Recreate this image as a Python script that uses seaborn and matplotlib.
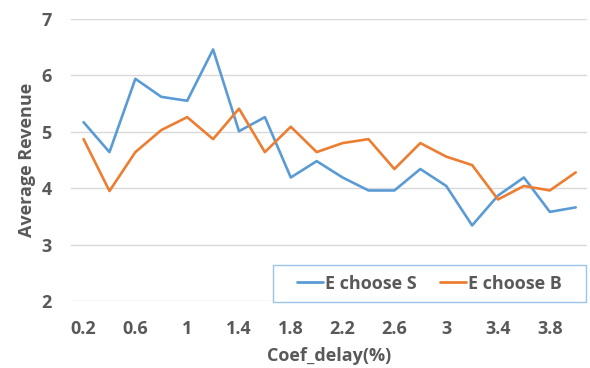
import matplotlib
matplotlib.use("Agg")
import matplotlib.pyplot as plt
from matplotlib.patches import Rectangle
import seaborn as sns
import pandas as pd

coef_delay = [0.2, 0.4, 0.6, 0.8, 1.0, 1.2, 1.4, 1.6, 1.8, 2.0,
              2.2, 2.4, 2.6, 2.8, 3.0, 3.2, 3.4, 3.6, 3.8, 4.0]
e_choose_s = [5.17, 4.64, 5.94, 5.62, 5.55, 6.46, 5.01, 5.26, 4.19, 4.48,
              4.19, 3.96, 3.96, 4.34, 4.04, 3.34, 3.87, 4.19, 3.58, 3.66]
e_choose_b = [4.87, 3.95, 4.64, 5.03, 5.26, 4.87, 5.41, 4.64, 5.09, 4.64,
              4.80, 4.87, 4.34, 4.80, 4.56, 4.41, 3.80, 4.04, 3.96, 4.28]
series_names = ["E choose S", "E choose B"]
x_ticks = [0.2, 0.6, 1.0, 1.4, 1.8, 2.2, 2.6, 3.0, 3.4, 3.8]
x_tick_labels = ["0.2", "0.6", "1", "1.4", "1.8", "2.2", "2.6", "3", "3.4", "3.8"]
y_ticks = [2, 3, 4, 5, 6, 7]

df = pd.DataFrame({
    "Coef_delay(%)": coef_delay * 2,
    "Average Revenue": e_choose_s + e_choose_b,
    "series": [series_names[0]] * len(coef_delay) + [series_names[1]] * len(coef_delay),
})

sns.set_theme(style="white")
plt.rcParams["font.family"] = ["Open Sans", "DejaVu Sans"]

text_color = "#595959"
fig = plt.figure(figsize=(5.9, 3.68), dpi=100)
ax = fig.add_axes([71 / 590, 67 / 368, 516 / 590, 282 / 368])

sns.lineplot(data=df, x="Coef_delay(%)", y="Average Revenue", hue="series",
             palette=["#5B9BD5", "#ED7D31"], linewidth=1.9, ax=ax,
             legend=True)

ax.set_xlim(0.103, 4.087)
ax.set_ylim(2, 7)
ax.set_xticks(x_ticks)
ax.set_xticklabels(x_tick_labels)
ax.set_yticks(y_ticks)
ax.grid(axis="y", color="#D9D9D9", linewidth=1.0)
ax.set_axisbelow(True)
for s in ax.spines.values():
    s.set_visible(False)
ax.tick_params(axis="both", length=0, labelsize=13, labelcolor=text_color)
ax.tick_params(axis="y", pad=14)
ax.tick_params(axis="x", pad=14)
for lbl in ax.get_xticklabels() + ax.get_yticklabels():
    lbl.set_fontweight("bold")

ax.set_xlabel("Coef_delay(%)", fontsize=13, fontweight="bold", color=text_color, labelpad=6)
ax.set_ylabel("Average Revenue", fontsize=13, fontweight="bold", color=text_color, labelpad=4)

# legend box in the lower right of the plot area
box = Rectangle((0.391, -0.004), 0.607, 0.132, transform=ax.transAxes,
                facecolor="white", edgecolor="#9DC3E6", linewidth=1.0,
                zorder=4, clip_on=False)
ax.add_patch(box)

handles, labels = ax.get_legend_handles_labels()
leg = ax.legend(handles, labels, loc="center",
                bbox_to_anchor=(0.391 + 0.607 / 2, -0.004 + 0.132 / 2),
                ncol=2, frameon=False, handlelength=1.45,
                handletextpad=0.1, columnspacing=1.3, borderaxespad=0,
                prop={"size": 13, "weight": "bold"})
leg.set_zorder(5)
for t in leg.get_texts():
    t.set_color(text_color)
for h in leg.get_lines():
    h.set_linewidth(2.0)

fig.savefig("out.png", dpi=100)
